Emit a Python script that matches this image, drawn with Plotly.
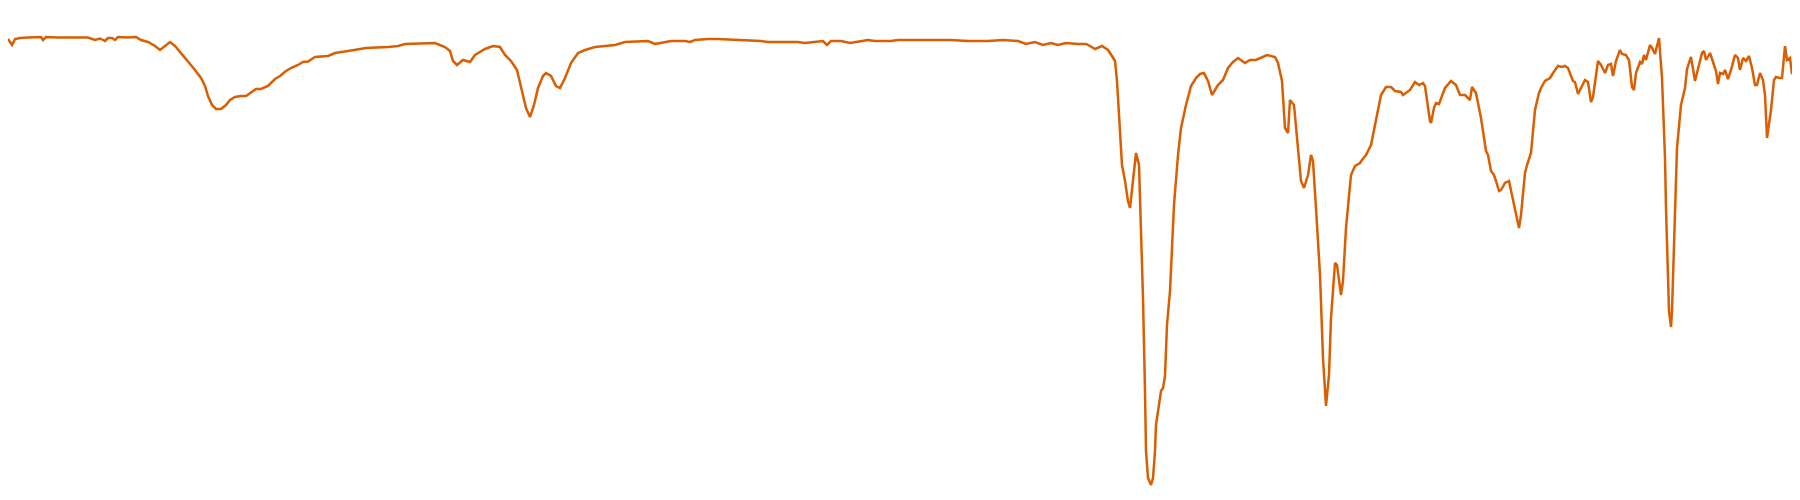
import plotly.graph_objects as go

wavenumber = [
    4000, 3992, 3986, 3976, 3960, 3940, 3934, 3930, 3924, 3900, 3880, 3860, 3840, 3826, 3816, 3806,
    3800, 3792, 3786, 3780, 3760, 3744, 3734, 3720, 3706, 3696, 3686, 3676, 3666, 3654, 3640, 3626,
    3614, 3606, 3600, 3592, 3584, 3574, 3564, 3556, 3546, 3534, 3524, 3510, 3504, 3494, 3480, 3466,
    3456, 3444, 3434, 3420, 3410, 3400, 3386, 3360, 3346, 3320, 3284, 3240, 3220, 3206, 3170, 3146,
    3126, 3116, 3110, 3102, 3090, 3076, 3066, 3046, 3030, 3016, 3006, 2994, 2982, 2974, 2964, 2956,
    2948, 2940, 2930, 2924, 2914, 2904, 2896, 2886, 2874, 2860, 2846, 2826, 2800, 2786, 2766, 2734,
    2720, 2706, 2694, 2674, 2646, 2636, 2626, 2600, 2580, 2534, 2494, 2480, 2420, 2406, 2376, 2370,
    2362, 2354, 2334, 2316, 2280, 2266, 2234, 2220, 2200, 2160, 2116, 2080, 2060, 2040, 2010, 1980,
    1964, 1946, 1930, 1914, 1900, 1884, 1860, 1844, 1836, 1826, 1812, 1800, 1792, 1786, 1782, 1776,
    1772, 1766, 1760, 1756, 1750, 1744, 1738, 1734, 1730, 1726, 1724, 1720, 1714, 1710, 1706, 1704,
    1694, 1690, 1686, 1682, 1676, 1672, 1668, 1660, 1654, 1644, 1634, 1624, 1616, 1608, 1600, 1592,
    1580, 1570, 1560, 1550, 1540, 1526, 1516, 1504, 1494, 1482, 1466, 1460, 1452, 1446, 1440, 1436,
    1428, 1422, 1414, 1408, 1400, 1394, 1390, 1384, 1376, 1370, 1364, 1358, 1354, 1346, 1342, 1334,
    1330, 1324, 1318, 1314, 1306, 1296, 1292, 1284, 1274, 1266, 1260, 1254, 1244, 1234, 1226, 1214,
    1210, 1196, 1186, 1178, 1170, 1166, 1156, 1154, 1148, 1144, 1138, 1134, 1126, 1114, 1104, 1096,
    1086, 1076, 1072, 1064, 1054, 1044, 1040, 1034, 1028, 1024, 1018, 1014, 1006, 998, 994, 986,
    978, 974, 968, 966, 962, 954, 950, 946, 938, 934, 926, 916, 910, 900, 892, 886,
    880, 874, 870, 866, 860, 854, 846, 840, 834, 830, 820, 814, 806, 800, 794, 790,
    784, 776, 772, 764, 758, 752, 748, 744, 736, 732, 728, 724, 716, 712, 706, 698,
    692, 686, 684, 678, 674, 672, 666, 662, 654, 646, 642, 634, 626, 618, 612, 608,
    604, 596, 590, 584, 580, 576, 570, 566, 560, 554, 546, 540, 536, 530, 524, 518,
    512, 506, 502, 496, 490, 486, 482, 474, 468, 464, 456, 452, 446, 442, 436, 432,
    426, 422, 416, 414, 408, 404, 400,
]

transmittance = [
    93.8, 92.6, 93.8, 94.0, 94.1, 94.1, 94.2, 93.6, 94.2, 94.1, 94.1, 94.0, 94.1, 93.6, 93.9, 93.4,
    94.0, 94.0, 93.6, 94.2, 94.1, 94.2, 93.6, 93.2, 92.4, 91.6, 92.4, 93.2, 92.4, 91.0, 89.4, 87.6,
    86.0, 84.4, 82.4, 80.6, 79.8, 79.8, 80.6, 81.6, 82.2, 82.4, 82.4, 83.4, 83.8, 83.8, 84.4, 85.8,
    86.4, 87.4, 88.0, 88.6, 89.2, 89.3, 90.2, 90.4, 91.0, 91.4, 92.0, 92.2, 92.4, 92.8, 93.0, 93.0,
    92.2, 91.4, 89.4, 88.6, 89.6, 89.2, 90.6, 91.8, 92.4, 92.2, 90.6, 89.4, 87.6, 84.4, 80.0, 78.2,
    80.6, 84.0, 86.4, 87.0, 86.4, 84.4, 84.0, 86.0, 89.0, 91.0, 91.6, 92.2, 92.5, 92.6, 93.2, 93.4,
    93.4, 92.8, 93.0, 93.4, 93.4, 93.2, 93.6, 93.8, 93.8, 93.6, 93.4, 93.2, 93.2, 93.0, 93.4, 93.4,
    92.6, 93.4, 93.4, 93.0, 93.6, 93.4, 93.4, 93.6, 93.6, 93.6, 93.6, 93.4, 93.4, 93.4, 93.6, 93.4,
    92.8, 93.2, 92.6, 93.0, 92.6, 93.0, 92.8, 92.8, 92.4, 91.8, 92.4, 91.6, 90.4, 89.4, 85.4, 76.6,
    68.6, 65.4, 61.4, 60.0, 65.4, 71.0, 68.6, 57.4, 42.0, 23.4, 11.4, 6.0, 4.6, 6.0, 11.4, 16.6,
    23.4, 24.0, 26.4, 36.6, 43.4, 52.0, 60.6, 70.6, 76.0, 80.6, 84.4, 86.0, 86.8, 87.0, 85.4, 82.6,
    84.6, 85.6, 88.0, 89.2, 90.0, 89.0, 89.6, 89.6, 90.0, 90.6, 90.2, 89.0, 85.4, 76.0, 75.0, 81.6,
    80.6, 74.6, 65.4, 64.0, 66.6, 70.6, 69.4, 60.0, 46.6, 30.0, 20.4, 26.6, 38.0, 49.0, 48.6, 42.6,
    45.4, 56.0, 62.0, 66.6, 68.4, 69.0, 69.6, 70.6, 72.6, 76.6, 80.0, 82.6, 84.2, 84.2, 83.4, 83.2,
    82.6, 83.6, 85.2, 84.6, 85.0, 84.4, 77.4, 77.0, 80.0, 81.0, 80.8, 82.0, 84.0, 85.4, 84.6, 82.6,
    82.6, 81.6, 84.2, 83.0, 78.0, 71.4, 70.6, 67.4, 66.6, 65.4, 63.4, 63.6, 65.0, 65.4, 63.4, 60.0,
    56.0, 58.6, 65.4, 67.0, 68.6, 71.0, 75.4, 79.6, 83.0, 84.0, 85.4, 86.0, 87.0, 88.4, 88.2, 88.4,
    88.0, 86.4, 85.4, 85.2, 82.8, 84.0, 85.6, 85.2, 81.2, 82.2, 89.4, 88.6, 87.0, 88.6, 88.8, 86.4,
    89.4, 91.6, 90.8, 90.6, 89.6, 84.2, 83.6, 87.0, 89.2, 88.8, 90.6, 89.6, 92.6, 92.0, 90.8, 94.0,
    86.0, 70.0, 60.0, 39.4, 36.2, 39.4, 60.0, 72.0, 80.6, 84.0, 87.8, 90.2, 85.4, 88.4, 91.0, 91.4,
    89.6, 91.0, 89.4, 87.4, 84.8, 87.0, 86.8, 87.6, 85.8, 87.6, 90.6, 90.0, 87.6, 90.0, 89.4, 90.4,
    88.0, 84.6, 84.6, 87.0, 85.6, 82.6, 74.0, 79.6, 85.6, 86.2, 86.0, 86.0, 92.4, 89.6, 90.0, 86.8,
    90.6, 91.6, 87.0, 88.8, 86.6, 94.0, 96.0,
]

line_color = "#d95f02"

fig = go.Figure(
    go.Scatter(
        x=wavenumber,
        y=transmittance,
        mode="lines",
        line=dict(color=line_color, width=2.5),
        hoverinfo="x+y",
    )
)

fig.update_layout(
    width=1800,
    height=500,
    margin=dict(l=0, r=0, t=0, b=0),
    paper_bgcolor="white",
    plot_bgcolor="white",
    showlegend=False,
    xaxis=dict(range=[4000, 400], visible=False, showgrid=False, zeroline=False),
    yaxis=dict(range=[0, 100], visible=False, showgrid=False, zeroline=False),
)

fig.write_html("out.html")
